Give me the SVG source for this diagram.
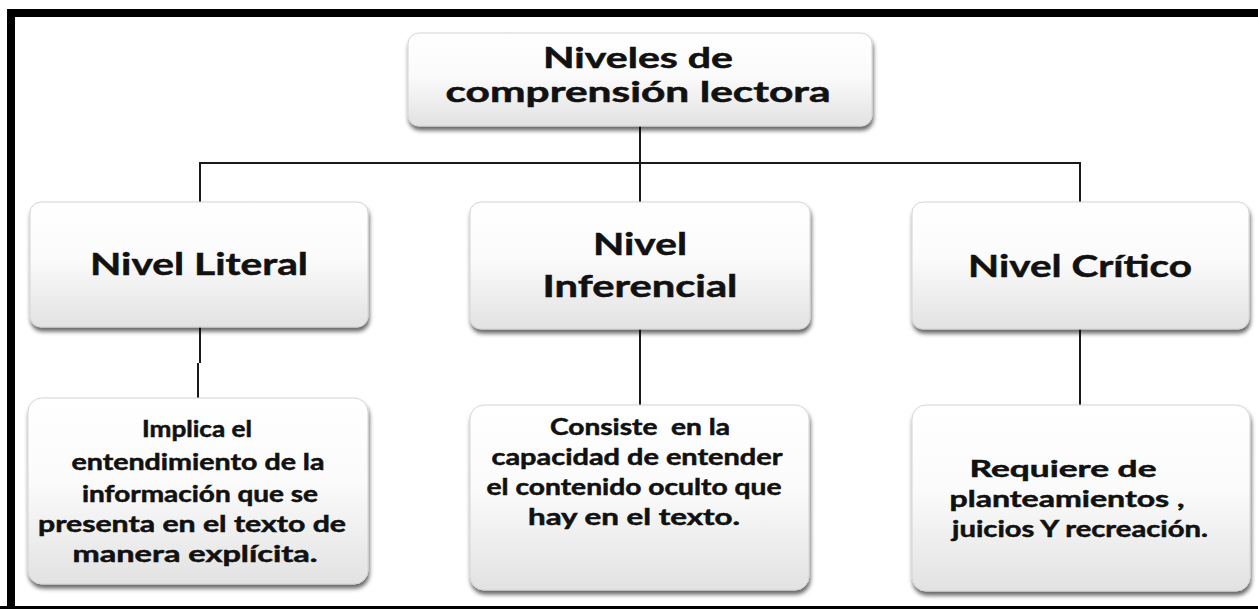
<svg xmlns="http://www.w3.org/2000/svg" width="1258" height="609" viewBox="0 0 1258 609">
<defs>
<linearGradient id="g" x1="0" y1="0" x2="0" y2="1">
<stop offset="0" stop-color="#ffffff"/>
<stop offset="0.45" stop-color="#fbfbfb"/>
<stop offset="1" stop-color="#e2e2e2"/>
</linearGradient>
<filter id="sh" x="-10%" y="-10%" width="125%" height="135%">
<feDropShadow dx="1" dy="4" stdDeviation="2.2" flood-color="#000" flood-opacity="0.6"/>
</filter>
</defs>
<style>
.box{fill:url(#g);stroke:#d4d4d4;stroke-width:1;filter:url(#sh)}
.t{font-family:Lato,"Open Sans","Liberation Sans",sans-serif;font-weight:bold;fill:#111;stroke:#111;stroke-width:0.5;text-anchor:middle}
.h{font-size:31px}
.s{font-size:22px}
.ti{font-size:28px}
.c{stroke:#1a1a1a;stroke-width:2;fill:none}
</style>
<rect x="0" y="0" width="1258" height="609" fill="#fff"/>
<path d="M11 609 V13 H1258" fill="none" stroke="#000" stroke-width="8"/>
<rect x="0" y="606" width="1258" height="3" fill="#000"/>
<g id="connectors">
<path class="c" d="M640 126 V202"/>
<path class="c" d="M200 202 V163 H1080 V202"/>
<path class="c" d="M200 327 V363 M198 363 V398"/>
<path class="c" d="M640 329 V405"/>
<path class="c" d="M1080 329 V405"/>
</g>
<g id="root">
<rect class="box" x="408" y="33" width="464" height="93" rx="11"/>
<text class="t ti" x="638" y="68" textLength="190" lengthAdjust="spacingAndGlyphs">Niveles de</text>
<text class="t ti" x="638" y="102" textLength="385" lengthAdjust="spacingAndGlyphs">comprensión lectora</text>
</g>
<g id="literal">
<rect class="box" x="30" y="202" width="338" height="125" rx="11"/>
<text class="t h" x="199" y="275" textLength="218" lengthAdjust="spacingAndGlyphs">Nivel Literal</text>
</g>
<g id="inferencial">
<rect class="box" x="470" y="202" width="340" height="127" rx="11"/>
<text class="t h" x="640" y="255" textLength="94" lengthAdjust="spacingAndGlyphs">Nivel</text>
<text class="t h" x="640" y="297" textLength="195" lengthAdjust="spacingAndGlyphs">Inferencial</text>
</g>
<g id="critico">
<rect class="box" x="912" y="202" width="337" height="127" rx="11"/>
<text class="t h" x="1080" y="277" textLength="224" lengthAdjust="spacingAndGlyphs">Nivel Crítico</text>
</g>
<g id="literal-desc">
<rect class="box" x="28" y="398" width="340" height="186" rx="14"/>
<text class="t s" x="197" y="437" textLength="110" lengthAdjust="spacingAndGlyphs">Implica el</text>
<text class="t s" x="198" y="470" textLength="253" lengthAdjust="spacingAndGlyphs">entendimiento de la</text>
<text class="t s" x="200" y="502" textLength="236" lengthAdjust="spacingAndGlyphs">información que se</text>
<text class="t s" x="192" y="532" textLength="308" lengthAdjust="spacingAndGlyphs">presenta en el texto de</text>
<text class="t s" x="195" y="562" textLength="245" lengthAdjust="spacingAndGlyphs">manera explícita.</text>
</g>
<g id="inferencial-desc">
<rect class="box" x="470" y="405" width="339" height="185" rx="14"/>
<text class="t s" x="640" y="435" textLength="180" lengthAdjust="spacingAndGlyphs" xml:space="preserve">Consiste  en la</text>
<text class="t s" x="637" y="465" textLength="291" lengthAdjust="spacingAndGlyphs">capacidad de entender</text>
<text class="t s" x="634" y="495" textLength="295" lengthAdjust="spacingAndGlyphs">el contenido oculto que</text>
<text class="t s" x="634" y="525" textLength="212" lengthAdjust="spacingAndGlyphs">hay en el texto.</text>
</g>
<g id="critico-desc">
<rect class="box" x="912" y="405" width="338" height="186" rx="14"/>
<text class="t s" x="1063" y="477" textLength="187" lengthAdjust="spacingAndGlyphs">Requiere de</text>
<text class="t s" x="1067" y="507" textLength="235" lengthAdjust="spacingAndGlyphs">planteamientos ,</text>
<text class="t s" x="1080" y="537" textLength="256" lengthAdjust="spacingAndGlyphs">juicios Y recreación.</text>
</g>
</svg>
